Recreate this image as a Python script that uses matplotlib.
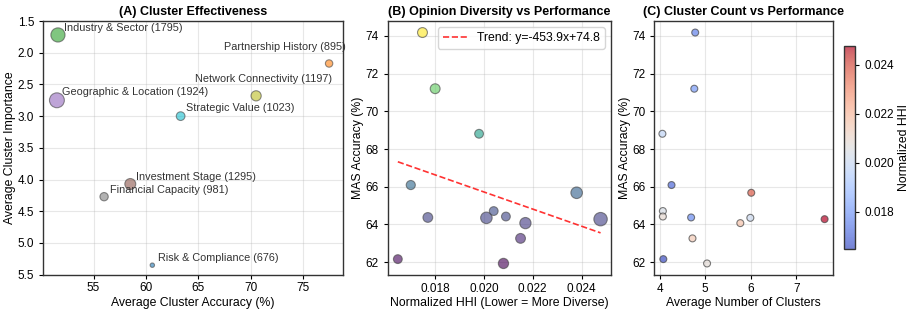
import matplotlib
matplotlib.use('Agg')
import matplotlib.pyplot as plt
import numpy as np

plt.rcParams.update({
    'font.family': ['Liberation Sans', 'DejaVu Sans'],
    'font.size': 8.8,
    'axes.titlesize': 9,
    'axes.labelsize': 8.8,
    'axes.labelpad': 2,
    'xtick.labelsize': 8.5,
    'ytick.labelsize': 8.5,
    'xtick.major.pad': 2.5,
    'legend.fontsize': 8.8,
    'axes.edgecolor': '#333333',
    'axes.linewidth': 1.0,
    'xtick.major.size': 3,
    'ytick.major.size': 3,
    'xtick.major.width': 0.8,
    'ytick.major.width': 0.8,
})

# (A) cluster effectiveness
cluster_names = ['Industry & Sector', 'Partnership History', 'Network Connectivity',
                 'Geographic & Location', 'Strategic Value', 'Investment Stage',
                 'Financial Capacity', 'Risk & Compliance']
cluster_acc = [51.6, 77.46, 70.5, 51.5, 63.3, 58.5, 56.0, 60.6]
cluster_imp = [1.72, 2.17, 2.68, 2.75, 3.00, 4.07, 4.27, 5.35]
cluster_count = [1795, 895, 1197, 1924, 1023, 1295, 981, 676]
cluster_colors = ['tab:green', 'tab:orange', 'tab:olive', 'tab:purple',
                  'tab:cyan', 'tab:brown', 'tab:gray', 'tab:blue']
# label offsets (points)
label_off = [(4, 3), (-76, 10), (-44, 10), (4, 3.5), (4, 3.5), (4, 3), (4, 3), (4, 3)]

# (B)/(C) per-run stats
hhi = [0.01748, 0.0180, 0.0198, 0.0170, 0.0177, 0.01647, 0.0201,
       0.0204, 0.0209, 0.0208, 0.0215, 0.0217, 0.0238, 0.02478]
mas_acc = [74.18, 71.2, 68.81, 66.09, 64.37, 62.16, 64.35,
           64.71, 64.42, 61.93, 63.26, 64.07, 65.68, 64.28]
n_clusters = [4.78, 4.76, 4.06, 4.26, 4.69, 4.08, 5.99,
              4.07, 4.07, 5.04, 4.72, 5.77, 6.01, 7.62]
TREND_SLOPE = -453.9
TREND_INTERCEPT = 74.8

W, H = 913, 314
fig = plt.figure(figsize=(W / 100, H / 100), dpi=100)

def px_axes(l, r, t, b):
    return fig.add_axes([l / W, (H - b) / H, (r - l) / W, (b - t) / H])

ax1 = px_axes(43.3, 342.7, 21, 274.7)
ax2 = px_axes(387.7, 610.7, 21, 275)
ax3 = px_axes(654.3, 832.7, 21, 275)
cax = px_axes(844.3, 855, 45.7, 249.3)

# (A)
cnt = np.array(cluster_count)
sizes = 10 + (cnt - cnt.min()) / (cnt.max() - cnt.min()) * 105
ax1.scatter(cluster_acc, cluster_imp, s=sizes, c=cluster_colors, alpha=0.6,
            edgecolors='#444444', linewidths=0.8, zorder=3)
for name, x, y, n, off in zip(cluster_names, cluster_acc, cluster_imp, cluster_count, label_off):
    ax1.annotate(f'{name} ({n})', (x, y), xytext=off, textcoords='offset points',
                 fontsize=7.8, color='#333333')
ax1.set_ylim(5.5, 1.5)
ax1.set_xlabel('Average Cluster Accuracy (%)')
ax1.set_ylabel('Average Cluster Importance', labelpad=1)
ax1.set_title('(A) Cluster Effectiveness', fontweight='bold', pad=4)
ax1.grid(True, alpha=0.3)
ax1.set_axisbelow(True)

# (B)
hhi_a = np.array(hhi)
ax2.scatter(hhi, mas_acc, s=15 * (np.array(n_clusters) - 1.4), c=mas_acc, cmap='viridis',
            alpha=0.62, edgecolors='#444444', linewidths=0.8, zorder=3)
xs = np.array([hhi_a.min(), hhi_a.max()])
ax2.plot(xs, TREND_SLOPE * xs + TREND_INTERCEPT, 'r--', alpha=0.8, linewidth=1.2,
         label=f'Trend: y={TREND_SLOPE:.1f}x+{TREND_INTERCEPT:.1f}')
ax2.legend(loc='upper right')
ax2.set_xticks([0.018, 0.020, 0.022, 0.024])
ax2.set_xlabel('Normalized HHI (Lower = More Diverse)')
ax2.set_ylabel('MAS Accuracy (%)', labelpad=1)
ax2.set_title('(B) Opinion Diversity vs Performance', fontweight='bold', pad=4)
ax2.grid(True, alpha=0.3)
ax2.set_axisbelow(True)

# (C)
sc = ax3.scatter(n_clusters, mas_acc, s=25, c=hhi, cmap='coolwarm', alpha=0.7,
                 edgecolors='#444444', linewidths=0.8, zorder=3)
ax3.set_xlabel('Average Number of Clusters')
ax3.set_ylabel('MAS Accuracy (%)', labelpad=1)
ax3.set_title('(C) Cluster Count vs Performance', fontweight='bold', pad=4)
ax3.grid(True, alpha=0.3)
ax3.set_axisbelow(True)
cb = fig.colorbar(sc, cax=cax)
cb.set_label('Normalized HHI', labelpad=3)
cb.set_ticks([0.018, 0.020, 0.022, 0.024])
cb.ax.tick_params(labelsize=8.5)

fig.savefig('out.png', dpi=100)
